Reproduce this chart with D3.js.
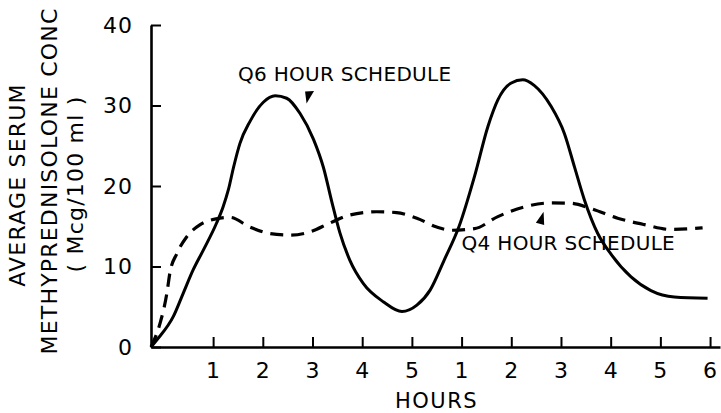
<!DOCTYPE html>
<html>
<head>
<meta charset="utf-8">
<script src="https://cdn.jsdelivr.net/npm/d3@7"></script>
<style>
  body { margin: 0; background: #fff; }
  svg { display: block; font-family: "DejaVu Sans", sans-serif; }
</style>
</head>
<body>
<div id="chart"></div>
<script>
// values (hours run continuously; labels restart after 5)
const q6Hours = [-0.25, -0.13, 0.2, 0.4, 0.6, 0.8, 1.07, 1.2, 1.31, 1.41, 1.54, 1.74, 2.01, 2.25, 2.48, 2.75, 3.02, 3.22, 3.39, 3.55, 3.75, 4.02, 4.43, 4.8, 5.1, 5.37, 5.65, 5.95, 6.26, 6.53, 6.73, 7.0, 7.23, 7.46, 7.8, 8.07, 8.27, 8.47, 8.74, 9.01, 9.41, 9.81, 10.28, 10.95];
const q6Conc = [0, 0.9, 3.8, 6.7, 9.6, 12.0, 15.4, 17.4, 19.6, 22.3, 25.3, 28.0, 30.4, 31.2, 30.9, 29.0, 25.8, 22.3, 18.0, 14.2, 10.8, 7.9, 5.6, 4.4, 5.2, 7.1, 10.8, 15.0, 21.2, 27.4, 30.7, 32.8, 33.2, 32.5, 29.9, 26.5, 22.4, 18.3, 14.1, 11.5, 8.7, 7.0, 6.2, 6.05];

const q4Hours = [-0.25, -0.07, 0.07, 0.13, 0.27, 0.47, 0.74, 1.14, 1.34, 1.74, 2.14, 2.55, 2.95, 3.35, 3.75, 4.29, 4.69, 5.1, 5.5, 5.79, 6.26, 6.73, 7.26, 7.8, 8.2, 8.6, 9.14, 9.68, 10.21, 10.85];
const q4Conc = [0, 2.9, 6.7, 9.2, 11.6, 13.7, 15.2, 16.0, 16.1, 14.9, 14.1, 13.9, 14.3, 15.4, 16.4, 16.8, 16.7, 16.0, 14.9, 14.5, 14.7, 16.2, 17.4, 17.9, 17.85, 17.2, 16.0, 15.2, 14.6, 14.8];

const hourTicks = [1, 2, 3, 4, 5, 6, 7, 8, 9, 10, 11];
const hourLabels = ["1", "2", "3", "4", "5", "1", "2", "3", "4", "5", "6"];
const concTicks = [0, 10, 20, 30, 40];
const yTitleLines = ["AVERAGE  SERUM", "METHYPREDNISOLONE  CONC", "( Mcg/100 ml )"];

const settings = {
  width: 721,
  height: 413,
  x0: 151, x1: 720,
  y0: 347, y1: 25
};

const svg = d3.select("#chart")
  .append("svg")
  .attr("width", settings.width)
  .attr("height", settings.height);

const xScale = d3.scaleLinear()
  .domain([-0.25, 11.2])
  .range([settings.x0, settings.x1]);

const yScale = d3.scaleLinear()
  .domain([0, 40])
  .range([settings.y0, settings.y1]);

// X axis, ticks pointing up
const xAxis = svg.append("g")
  .attr("transform", `translate(0,${settings.y0})`)
  .call(d3.axisBottom(xScale)
    .tickValues(hourTicks)
    .tickFormat((d, i) => hourLabels[i])
    .tickSizeInner(-10)
    .tickSizeOuter(0)
    .tickPadding(15));

// Y axis, ticks pointing right
const yAxis = svg.append("g")
  .attr("transform", `translate(${settings.x0},0)`)
  .call(d3.axisLeft(yScale)
    .tickValues(concTicks)
    .tickSizeInner(-10)
    .tickSizeOuter(0)
    .tickPadding(18));

[xAxis, yAxis].forEach(ax => {
  ax.select(".domain").attr("stroke", "#000").attr("stroke-width", 2.6);
  ax.selectAll(".tick line").attr("stroke", "#000").attr("stroke-width", 2);
  ax.selectAll(".tick text")
    .attr("fill", "#000")
    .attr("font-size", "22px")
    .attr("letter-spacing", "1px")
    .attr("font-family", "DejaVu Sans, sans-serif");
});

// curves
const line = d3.line()
  .x(d => xScale(d[0]))
  .y(d => yScale(d[1]))
  .curve(d3.curveMonotoneX);

svg.append("path")
  .datum(q6Hours.map((h, i) => [h, q6Conc[i]]))
  .attr("fill", "none")
  .attr("stroke", "#000")
  .attr("stroke-width", 3)
  .attr("d", line);

svg.append("path")
  .datum(q4Hours.map((h, i) => [h, q4Conc[i]]))
  .attr("fill", "none")
  .attr("stroke", "#000")
  .attr("stroke-width", 3.2)
  .attr("stroke-dasharray", "13,8")
  .attr("d", line);

// annotations
const notes = [
  { text: "Q6 HOUR SCHEDULE", hour: 1.5, conc: 33.0, tipHour: 2.88, tipConc: 30.25, tri: [[-1.5, -12], [7.5, -12.5]] },
  { text: "Q4 HOUR SCHEDULE", hour: 6.0, conc: 12.05, tipHour: 7.65, tipConc: 16.8, tri: [[-7.7, 11], [0.6, 13.3]] }
];

notes.forEach(n => {
  svg.append("text")
    .attr("x", xScale(n.hour))
    .attr("y", yScale(n.conc))
    .attr("font-size", "20px")
    .attr("letter-spacing", "0.3px")
    .attr("fill", "#000")
    .text(n.text);

  const tx = xScale(n.tipHour), ty = yScale(n.tipConc);
  svg.append("path")
    .attr("d", `M${tx},${ty}L${tx + n.tri[0][0]},${ty + n.tri[0][1]}L${tx + n.tri[1][0]},${ty + n.tri[1][1]}Z`)
    .attr("fill", "#000");
});

// axis titles
svg.append("text")
  .attr("x", 436.5)
  .attr("y", 408)
  .attr("text-anchor", "middle")
  .attr("font-size", "21px")
  .attr("letter-spacing", "1.5px")
  .attr("fill", "#000")
  .text("HOURS");

const titleX = [25, 57, 83];
const titleY = [185, 181, 184];
yTitleLines.forEach((t, i) => {
  svg.append("text")
    .attr("transform", `translate(${titleX[i]},${titleY[i]}) rotate(-90)`)
    .attr("text-anchor", "middle")
    .attr("font-size", "22px")
    .attr("letter-spacing", "1.2px")
    .attr("fill", "#000")
    .text(t);
});
</script>
</body>
</html>
